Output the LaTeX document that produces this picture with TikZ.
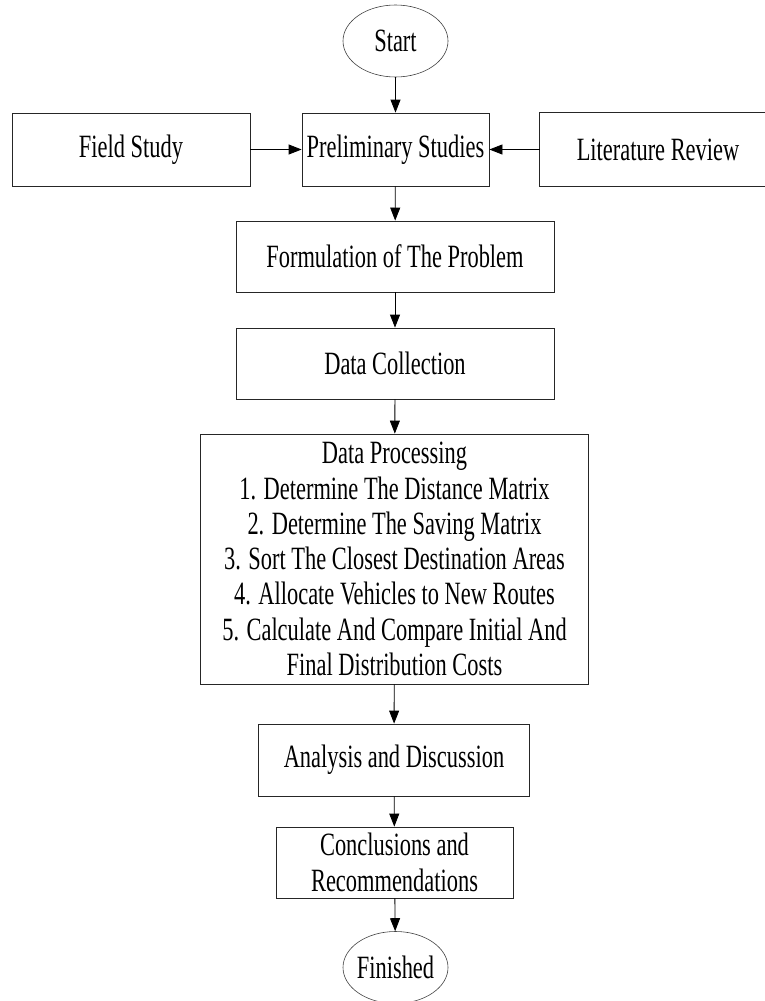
\documentclass[tikz,border=0pt]{standalone}
\usepackage{fontspec}
\setmainfont[FakeStretch=0.69]{Liberation Serif}
\usetikzlibrary{shapes.geometric,arrows.meta}
\tikzset{
  boxline/.style={draw=black!85, line width=0.8pt},
  stepbox/.style={boxline, rectangle, inner sep=0pt,
    align=center, font=\fontsize{32.5}{35.3}\selectfont},
  termnode/.style={draw=black!75, line width=0.6pt, ellipse, inner xsep=-4pt,
    inner ysep=0pt, minimum width=105pt, minimum height=72pt,
    font=\fontsize{32.5}{35.3}\selectfont},
  flowarrow/.style={draw=black, line width=0.8pt,
    -{Triangle[length=13pt,width=10pt]}}
}
\begin{document}
\begin{tikzpicture}[x=1pt,y=-1pt]
\useasboundingbox (0,0) rectangle (764,1001);
% flow of the study, top to bottom
\node[termnode] (start) at (395.5,41) {Start};
\node[stepbox, minimum width=187pt, minimum height=73pt] (prelim) at (395.5,149.5) {Preliminary Studies};
\node[stepbox, minimum width=238pt, minimum height=73pt] (field) at (131,149.5) {Field Study};
\node[stepbox, draw=none, minimum width=236pt, minimum height=73pt] (litrev) at (658,149.5) {Literature Review};
\draw[boxline] ([xshift=30pt]litrev.north east) -- (litrev.north west)
  -- (litrev.south west) -- ([xshift=30pt]litrev.south east);
\node[stepbox, minimum width=318pt, minimum height=71pt] (formul) at (395,256.5) {Formulation of The Problem};
\node[stepbox, minimum width=318pt, minimum height=71pt] (datacoll) at (395,363.5) {Data Collection};
\node[stepbox, minimum width=388pt, minimum height=250pt] (dataproc) at (394.5,559) {Data Processing\\
  1. Determine The Distance Matrix\\
  2. Determine The Saving Matrix\\
  3. Sort The Closest Destination Areas\\
  4. Allocate Vehicles to New Routes\\
  5. Calculate And Compare Initial And\\
  Final Distribution Costs};
\node[stepbox, minimum width=271pt, minimum height=72pt] (analysis) at (394,760) {Analysis and Discussion};
\node[stepbox, minimum width=237pt, minimum height=71pt] (concl) at (394.5,862.5) {Conclusions and\\ Recommendations};
\node[termnode] (finish) at (395.5,967.5) {Finished};

\draw[flowarrow] (start) -- (prelim);
\draw[flowarrow] (field) -- (prelim);
\draw[flowarrow] (litrev) -- (prelim);
\draw[flowarrow] (prelim) -- (formul);
\draw[flowarrow] (formul) -- (datacoll);
\draw[flowarrow] (datacoll) -- (dataproc);
\draw[flowarrow] (dataproc) -- (analysis);
\draw[flowarrow] (analysis) -- (concl);
\draw[flowarrow] (concl) -- (finish);
\end{tikzpicture}
\end{document}
